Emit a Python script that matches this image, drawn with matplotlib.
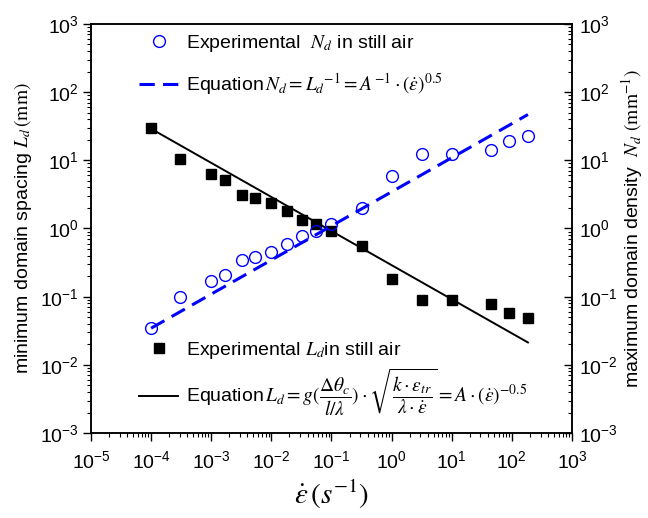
import numpy as np
import matplotlib
matplotlib.use("Agg")
import matplotlib.pyplot as plt

plt.rcParams['font.family'] = ['Liberation Sans', 'DejaVu Sans']
plt.rcParams['mathtext.fontset'] = 'stix'
plt.rcParams['axes.unicode_minus'] = False

# strain rate (1/s)
strain_rate = [1e-4, 3e-4, 1e-3, 1.7e-3, 3.2e-3, 5.4e-3, 1e-2, 1.8e-2, 3.2e-2,
               5.6e-2, 0.1, 0.32, 1.0, 3.2, 10, 45, 89, 185]
# minimum domain spacing Ld (mm)
Ld_exp = [30, 10.5, 6.3, 5.1, 3.1, 2.8, 2.4, 1.8, 1.35,
          1.15, 0.92, 0.55, 0.18, 0.09, 0.09, 0.078, 0.058, 0.048]
# maximum domain density Nd (1/mm)
Nd_exp = [0.035, 0.10, 0.17, 0.21, 0.35, 0.38, 0.45, 0.60, 0.78,
          0.92, 1.15, 2.0, 5.8, 12.3, 12.3, 14, 19, 23]
A = 0.29  # fitted constant, Ld = A * rate^-0.5

fig = plt.figure(figsize=(6.48, 5.18), dpi=100)
ax = fig.add_axes([0.1404, 0.164, 0.7423, 0.7898])
ax2 = ax.twinx()

rate_line = np.logspace(np.log10(strain_rate[0]), np.log10(strain_rate[-1]), 50)

sq, = ax.plot(strain_rate, Ld_exp, 's', color='black', ms=7, ls='none')
ln, = ax.plot(rate_line, A * rate_line ** -0.5, '-', color='black', lw=1.4)
ci, = ax2.plot(strain_rate, Nd_exp, 'o', mfc='none', mec='#0000ff', ms=8.5,
               mew=1.0, ls='none')
dl, = ax2.plot(rate_line, rate_line ** 0.5 / A, '--', color='#0000ff', lw=2.2,
               dashes=(5, 2.7))

for a in (ax, ax2):
    a.set_xscale('log')
    a.set_yscale('log')
    a.set_xlim(1e-5, 1e3)
    a.set_ylim(1e-3, 1e3)

ax.xaxis.set_major_locator(matplotlib.ticker.LogLocator(base=10, numticks=20))
ax.yaxis.set_major_locator(matplotlib.ticker.LogLocator(base=10, numticks=20))
ax2.yaxis.set_major_locator(matplotlib.ticker.LogLocator(base=10, numticks=20))
for a in (ax, ax2):
    a.xaxis.set_minor_locator(matplotlib.ticker.LogLocator(base=10, subs=np.arange(2, 10), numticks=20))
    a.yaxis.set_minor_locator(matplotlib.ticker.LogLocator(base=10, subs=np.arange(2, 10), numticks=20))
    a.xaxis.set_minor_formatter(matplotlib.ticker.NullFormatter())
    a.yaxis.set_minor_formatter(matplotlib.ticker.NullFormatter())

ax.tick_params(which='major', direction='out', length=6, width=1, labelsize=14, pad=3)
ax.tick_params(axis='x', which='major', pad=6)
ax.tick_params(which='minor', direction='out', length=3, width=0.8)
ax.tick_params(top=False, right=False)
ax2.tick_params(which='major', direction='in', length=6, width=1, labelsize=14, pad=5)
ax2.tick_params(which='minor', direction='in', length=3, width=0.8)
for a in (ax, ax2):
    for s in a.spines.values():
        s.set_linewidth(1.1)

ax.set_xlabel(r'$\boldsymbol{\dot{\varepsilon}}\,(s^{-1})$', fontsize=21, labelpad=4)
ax.set_ylabel(r'minimum domain spacing $L_d\,(\mathrm{mm})$', fontsize=14, labelpad=4)
ax2.set_ylabel(r'maximum domain density  $N_d\ (\mathrm{mm}^{-1})$', fontsize=14, labelpad=1)

leg1 = ax2.legend([ci, dl],
                  [r'Experimental  $N_d$ in still air',
                   r'Equation$\,N_d = {L_d}^{-1} = A^{-1}\cdot\left(\dot{\varepsilon}\right)^{0.5}$'],
                  loc='upper left', bbox_to_anchor=(0.10, 0.978), frameon=False,
                  fontsize=14, handlelength=2.0, handletextpad=0.4,
                  borderpad=0, borderaxespad=0, labelspacing=0.9)
leg2 = ax.legend([sq, ln],
                 [r'Experimental $L_d$in still air',
                  r'Equation$\,L_d = g(\dfrac{\Delta\theta_c}{l/\lambda})\cdot\sqrt{\dfrac{k\cdot\varepsilon_{tr}}{\lambda\cdot\dot{\varepsilon}}} = A\cdot\left(\dot{\varepsilon}\right)^{-0.5}$'],
                 loc='upper left', bbox_to_anchor=(0.10, 0.228), frameon=False,
                 fontsize=14, handlelength=2.0, handletextpad=0.4,
                 borderpad=0, borderaxespad=0, labelspacing=0.3)

fig.savefig('out.png', dpi=100)
